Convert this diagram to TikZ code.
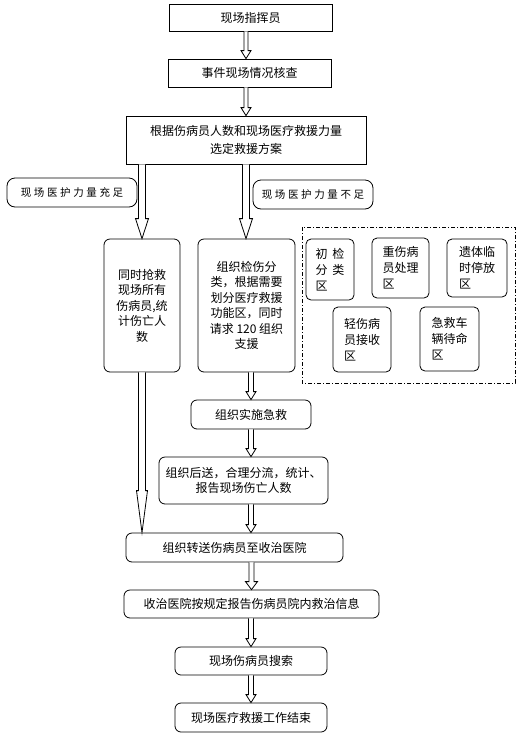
\documentclass[tikz,border=0pt]{standalone}
\usepackage{fontspec}
\setmainfont{Noto Sans CJK SC}
\newfontfamily\notefont[LetterSpace=25]{Noto Sans CJK SC}
\usetikzlibrary{calc}

% hollow block arrow: start, end, shaft half width, head half width, head length
\newcommand{\flowarrow}[5]{%
\draw[fill=white] ($#1+(-#3,0)$) -- ($#2+(-#3,-#5)$) -- ($#2+(-#4,-#5)$) -- #2 -- ($#2+(#4,-#5)$) -- ($#2+(#3,-#5)$) -- ($#1+(#3,0)$);}

\begin{document}
\begin{tikzpicture}[x=1pt,y=-1pt,line width=0.8pt,
  plainbox/.style={draw,inner sep=0,align=center,font=\fontsize{12}{18}\selectfont},
  roundbox/.style={draw,rounded corners=6pt,inner sep=0,align=center,font=\fontsize{12}{15.5}\selectfont},
  zonebox/.style={draw,rounded corners=5pt,inner sep=0,align=left,font=\fontsize{12}{16}\selectfont},
  notebox/.style={draw,rounded corners=8pt,inner sep=0,font=\notefont\fontsize{10.5}{12}\selectfont}]
\useasboundingbox (0,0) rectangle (528,740);
\fill[white] (0,0) rectangle (528,740);

\node[plainbox,minimum width=163,minimum height=27] (chief) at (250.5,17.5) {现场指挥员};
\node[plainbox,minimum width=163,minimum height=28] (check) at (249.5,73) {事件现场情况核查};
\node[plainbox,minimum width=240,minimum height=48] (plan) at (246,140) {根据伤病员人数和现场医疗救援力量\\选定救援方案};

\node[notebox,minimum width=130,minimum height=29] (enough) at (72,192.5) {现场医护力量充足};
\node[notebox,minimum width=120,minimum height=29] (short) at (313,194.5) {现场医护力量不足};

\node[roundbox,minimum width=76,minimum height=133] (all) at (142,305.5) {同时抢救\\现场所有\\伤病员,统\\计伤亡人\\数};
\node[roundbox,minimum width=97,minimum height=133] (triage) at (246.5,305.5) {组织检伤分\\类，根据需要\\划分医疗救援\\功能区，同时\\请求 120 组织\\支援};

% functional zones
\draw[line width=0.7pt,dash pattern=on 4pt off 2pt on 1pt off 2pt] (302,227) rectangle (515,383);
\node[zonebox,minimum width=48,minimum height=61] (zone1) at (330,269.5) {初\hspace{5pt}检\\分\hspace{5pt}类\\区};
\node[zonebox,minimum width=57,minimum height=60] (zone2) at (400.5,268) {重伤病\\员处理\\区};
\node[zonebox,minimum width=60,minimum height=58] (zone3) at (477,268) {遗体临\\时停放\\区};
\node[zonebox,minimum width=58,minimum height=65] (zone4) at (362,339.5) {轻伤病\\员接收\\区};
\node[zonebox,minimum width=59,minimum height=64] (zone5) at (449.5,339) {急救车\\辆待命\\区};

\node[roundbox,minimum width=120,minimum height=29] (aid) at (251,414.5) {组织实施急救};
\node[roundbox,minimum width=169,minimum height=47] (evac) at (243.5,480.5) {组织后送，合理分流，统计、\\报告现场伤亡人数};
\node[roundbox,minimum width=217,minimum height=29] (transfer) at (234.5,547.5) {组织转送伤病员至收治医院};
\node[roundbox,minimum width=255,minimum height=28] (report) at (251.5,604) {收治医院按规定报告伤病员院内救治信息};
\node[roundbox,minimum width=152,minimum height=28] (search) at (251,661) {现场伤病员搜索};
\node[roundbox,minimum width=152,minimum height=29] (finish) at (251,717.5) {现场医疗救援工作结束};

\flowarrow{(plan.north |- chief.south)}{(plan.north |- check.north)}{2}{5}{8}
\flowarrow{(plan.north |- check.south)}{(plan.north)}{2}{5}{8}
\flowarrow{(all.north |- plan.south)}{(all.north)}{3.5}{6.5}{20}
\flowarrow{(plan.south)}{(plan.south |- triage.north)}{3.5}{6.5}{20}
\flowarrow{(all.south)}{(all.south |- transfer.north)}{3.5}{5.5}{42}
\flowarrow{(aid.north |- triage.south)}{(aid.north)}{2.5}{5}{8}
\flowarrow{(aid.south)}{(aid.south |- evac.north)}{2.5}{5}{8}
\flowarrow{(aid.south |- evac.south)}{(aid.south |- transfer.north)}{2.5}{5}{8}
\flowarrow{(report.north |- transfer.south)}{(report.north)}{2.5}{6}{8}
\flowarrow{(search.north |- report.south)}{(search.north)}{2.5}{5}{8}
\flowarrow{(search.south)}{(finish.north)}{2.5}{5}{8}
\end{tikzpicture}
\end{document}
